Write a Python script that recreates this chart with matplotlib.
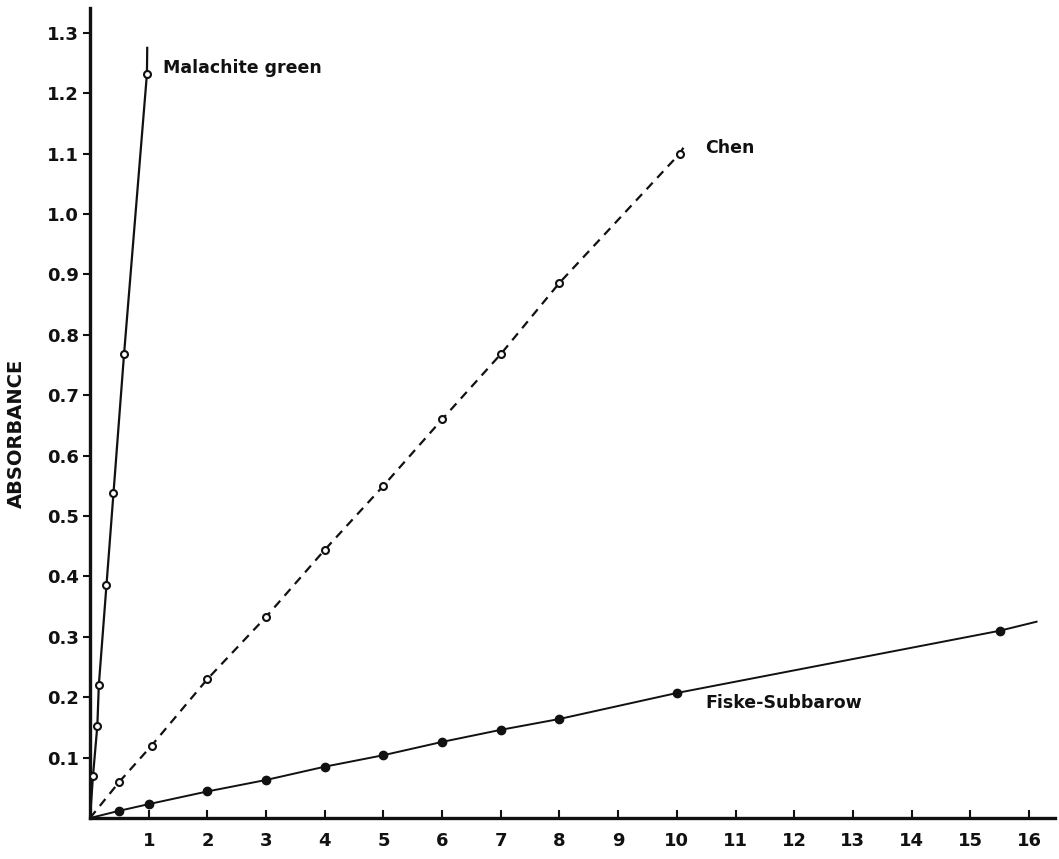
import matplotlib
matplotlib.use("Agg")
import matplotlib.pyplot as plt

# Phosphate standard curves for three colorimetric methods
mg_x = [0.05, 0.125, 0.15, 0.28, 0.40, 0.58, 0.97]
mg_y = [0.069, 0.153, 0.220, 0.385, 0.538, 0.768, 1.232]
mg_end = (0.975, 1.275)

chen_x = [0.5, 1.05, 2, 3, 4, 5, 6, 7, 8, 10.05]
chen_y = [0.060, 0.120, 0.230, 0.333, 0.444, 0.550, 0.660, 0.768, 0.886, 1.100]
chen_end = (10.12, 1.111)

fs_x = [0.5, 1, 2, 3, 4, 5, 6, 7, 8, 10, 15.5]
fs_y = [0.012, 0.023, 0.044, 0.063, 0.085, 0.104, 0.126, 0.146, 0.164, 0.207, 0.310]
fs_end = (16.13, 0.325)

x_ticks = list(range(1, 17))
y_ticks = [0.1, 0.2, 0.3, 0.4, 0.5, 0.6, 0.7, 0.8, 0.9, 1.0, 1.1, 1.2, 1.3]

plt.rcParams['font.family'] = ['DejaVu Sans']
fig = plt.figure(figsize=(10.59, 8.59), dpi=100)
ax = fig.add_axes([0.085, 0.0477, 0.911, 0.943])

ink = '#111111'

# connecting lines start at the origin and run a little past the last point
ax.plot([0] + mg_x + [mg_end[0]], [0] + mg_y + [mg_end[1]], color=ink, lw=1.6)
ax.plot([0] + chen_x + [chen_end[0]], [0] + chen_y + [chen_end[1]], color=ink,
        lw=1.6, dashes=(4, 3))
ax.plot([0] + fs_x + [fs_end[0]], [0] + fs_y + [fs_end[1]], color=ink, lw=1.4)

ax.plot(mg_x, mg_y, 'o', ms=5, mfc='white', mec=ink, mew=1.5, zorder=3)
ax.plot(chen_x, chen_y, 'o', ms=5, mfc='white', mec=ink, mew=1.5, zorder=3)
ax.plot(fs_x, fs_y, 'o', ms=6, mfc=ink, mec=ink, zorder=3)

label_kw = dict(fontsize=12.5, fontweight='bold', color=ink, va='center', ha='left')
ax.text(1.24, 1.242, 'Malachite green', **label_kw)
ax.text(10.48, 1.109, 'Chen', **label_kw)
ax.text(10.49, 0.190, 'Fiske-Subbarow', **label_kw)

ax.set_xlim(0, 16.44)
ax.set_ylim(0, 1.341)
ax.set_xticks(x_ticks)
ax.set_yticks(y_ticks)
ax.set_xticklabels([str(v) for v in x_ticks], fontsize=13, fontweight='bold')
ax.set_yticklabels([f'{v:.1f}' for v in y_ticks], fontsize=13, fontweight='bold')
ax.tick_params(axis='x', direction='in', length=6, width=1.5, pad=10, colors=ink)
ax.tick_params(axis='y', direction='out', length=5, width=1.5, pad=3, colors=ink)

for side in ('top', 'right'):
    ax.spines[side].set_visible(False)
for side in ('left', 'bottom'):
    ax.spines[side].set_linewidth(2.4)
    ax.spines[side].set_color(ink)

ax.set_ylabel('ABSORBANCE', fontsize=14, fontweight='bold', color=ink)
ax.yaxis.set_label_coords(-0.066, 0.475)

fig.savefig('out.png', dpi=100)
